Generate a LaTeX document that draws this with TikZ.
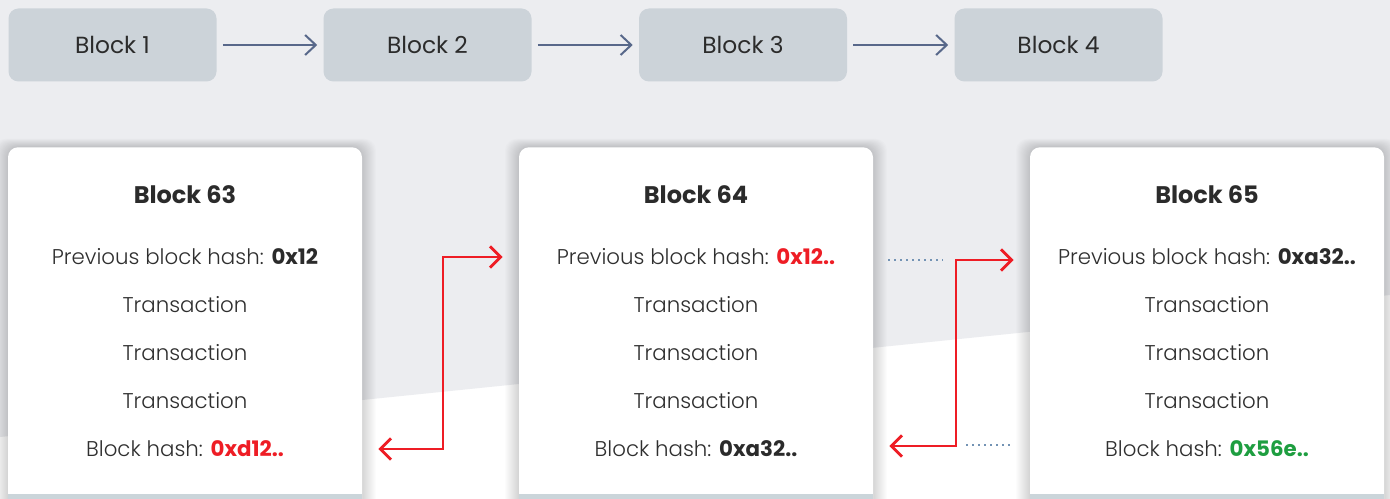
\documentclass[tikz,border=0pt]{standalone}
\usepackage{fontspec}
\setmainfont{Poppins Light}[BoldFont=Poppins Bold]
\newfontfamily\chipfont{Poppins}
\usetikzlibrary{arrows.meta,calc}

\definecolor{bggray}{HTML}{ECEDF0}
\definecolor{chipfill}{HTML}{CCD3D9}
\definecolor{flowblue}{HTML}{58688A}
\definecolor{inkdark}{HTML}{2B2B2B}
\definecolor{inkbody}{HTML}{2F2F2F}
\definecolor{hashred}{HTML}{EE1D25}
\definecolor{hashgreen}{HTML}{1E9E40}
\definecolor{stripgray}{HTML}{CBD5DA}
\definecolor{dotblue}{HTML}{7393B4}

\tikzset{
  chip/.style={fill=chipfill, rounded corners=7.5pt, minimum width=156pt,
    minimum height=54.75pt, inner sep=0pt, text=inkdark,
    font=\chipfont\fontsize{17.5}{20}\selectfont},
  flow/.style={draw=flowblue, line width=1.5pt, shorten <=4.5pt, shorten >=4.5pt,
    -{Straight Barb[length=8pt,width=15pt,line width=1.5pt]}},
  card/.style={fill=white, rounded corners=7.5pt, minimum width=265.5pt,
    minimum height=290pt, inner sep=0pt, anchor=north},
  softshadow/.style={fill=black, opacity=0.011, rounded corners=9pt},
  cardtitle/.style={font=\fontsize{18}{21}\selectfont\bfseries, text=inkdark, inner sep=0pt},
  cardline/.style={font=\fontsize{16}{19}\selectfont, text=inkbody, inner sep=0pt},
  redlink/.style={draw=hashred, line width=2.2pt, shorten <=12pt, shorten >=12pt,
    {Straight Barb[length=8pt,width=16pt,line width=2.2pt]}-{Straight Barb[length=8pt,width=16pt,line width=2.2pt]}},
  dotline/.style={draw=dotblue, line width=2pt, dash pattern=on 1.6pt off 2.9pt},
}

\begin{document}
\begin{tikzpicture}[x=0.75pt,y=-0.75pt]
\useasboundingbox (0,0) rectangle (1390,499);
\clip (0,0) rectangle (1390,499);

% background: grey band with a slanted lower edge over white
\fill[white] (0,0) rectangle (1390,499);
\fill[bggray] (0,0) -- (1390,0) -- (1390,295) -- (0,437) -- cycle;

% simple chain across the top
\node[chip] (b1) at (112.5,45) {Block 1};
\node[chip] (b2) at (427.5,45) {Block 2};
\node[chip] (b3) at (743,45) {Block 3};
\node[chip] (b4) at (1058.5,45) {Block 4};
\draw[flow] (b1) -- (b2);
\draw[flow] (b2) -- (b3);
\draw[flow] (b3) -- (b4);

% soft shadows behind the cards
\foreach \cx in {185,696,1207}
  \foreach \s in {1,...,14}
    \fill[softshadow] (\cx-177-\s,147-\s*0.6) rectangle (\cx+177+\s,530);

% detailed block cards
\node[card] (card63) at (185,147) {};
\node[card] (card64) at (696,147) {};
\node[card] (card65) at (1207,147) {};
\fill[stripgray] (8,494) rectangle (362,505);
\fill[stripgray] (519,494) rectangle (873,505);
\fill[stripgray] (1030,494) rectangle (1384,505);

% card 63
\node[cardtitle] (t63) at (185,195) {Block 63};
\node[cardline] (p63) at (185,257) {Previous block hash: \textbf{\color{inkdark}0x12}};
\node[cardline] (x63a) at (185,305) {Transaction};
\node[cardline] (x63b) at (185,353) {Transaction};
\node[cardline] (x63c) at (185,401) {Transaction};
\node[cardline] (h63) at (185,449) {Block hash: \textbf{\color{hashred}0xd12..}};

% card 64
\node[cardtitle] (t64) at (696,195) {Block 64};
\node[cardline] (p64) at (696,257) {Previous block hash: \textbf{\color{hashred}0x12..}};
\node[cardline] (x64a) at (696,305) {Transaction};
\node[cardline] (x64b) at (696,353) {Transaction};
\node[cardline] (x64c) at (696,401) {Transaction};
\node[cardline] (h64) at (696,449) {Block hash: \textbf{\color{inkdark}0xa32..}};

% card 65
\node[cardtitle] (t65) at (1207,195) {Block 65};
\node[cardline] (p65) at (1207,257) {Previous block hash: \textbf{\color{inkdark}0xa32..}};
\node[cardline] (x65a) at (1207,305) {Transaction};
\node[cardline] (x65b) at (1207,353) {Transaction};
\node[cardline] (x65c) at (1207,401) {Transaction};
\node[cardline] (h65) at (1207,449) {Block hash: \textbf{\color{hashgreen}0x56e..}};

% hash links between cards
\coordinate (j1) at (443,350);
\coordinate (j2) at (956,350);
\draw[redlink] (card63.east |- h63) -| (j1) |- (card64.west |- p64);
\draw[redlink] ([yshift=2.25pt]card64.east |- h64) -| (j2) |- ([yshift=-2.25pt]card65.west |- p65);

% dotted leads
\coordinate (d1) at (943,260);
\coordinate (d2) at (966,445);
\draw[dotline, shorten <=11.25pt] ([yshift=-2.25pt]card64.east |- p64) -- (d1);
\draw[dotline, shorten >=12pt] (d2) -- ([yshift=3pt]card65.west |- h65);
\end{tikzpicture}
\end{document}
